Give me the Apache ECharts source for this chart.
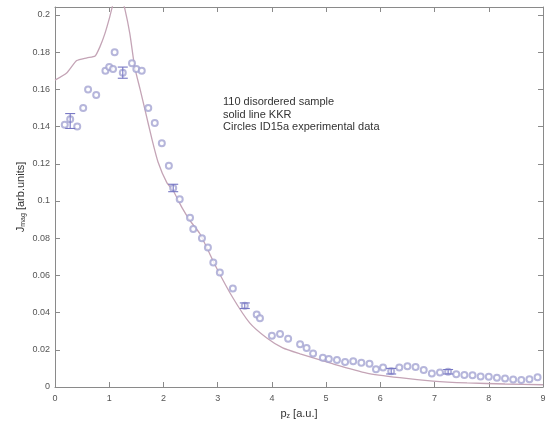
<!DOCTYPE html>
<html>
<head>
    <meta charset="utf-8">
    <title>Magnetic Compton profile</title>
    <script src="https://cdn.jsdelivr.net/npm/echarts@6/dist/echarts.min.js"></script>
    <style>
        html, body { margin: 0; padding: 0; background: #fff; }
    </style>
</head>
<body>
    <div id="main" style="width: 552px;height:425px;"></div>

    <script type="text/javascript">
        // experimental points (circles)
        var expX = [0.18, 0.28, 0.41, 0.52, 0.61, 0.76, 0.93, 1.00, 1.07, 1.10, 1.25, 1.42, 1.50, 1.60,
            1.72, 1.84, 1.97, 2.10, 2.18, 2.30, 2.49, 2.55, 2.71, 2.82, 2.92, 3.04, 3.28, 3.50, 3.72, 3.78,
            4.00, 4.15, 4.30, 4.52, 4.64, 4.76, 4.94, 5.05, 5.20, 5.35, 5.50, 5.65, 5.80, 5.92, 6.05, 6.20,
            6.35, 6.50, 6.65, 6.80, 6.95, 7.10, 7.25, 7.40, 7.55, 7.70, 7.85, 8.00, 8.15, 8.30, 8.45, 8.60,
            8.75, 8.90];
        var expY = [0.141, 0.144, 0.140, 0.150, 0.160, 0.157, 0.170, 0.172, 0.171, 0.180, 0.169, 0.174, 0.171, 0.170,
            0.150, 0.142, 0.131, 0.119, 0.107, 0.101, 0.091, 0.085, 0.080, 0.075, 0.067, 0.0615, 0.053, 0.0437, 0.039, 0.037,
            0.0275, 0.0285, 0.026, 0.023, 0.021, 0.018, 0.0157, 0.015, 0.0145, 0.0135, 0.0138, 0.013, 0.0125, 0.0095, 0.0105, 0.0085,
            0.0105, 0.0112, 0.0108, 0.0092, 0.0072, 0.0078, 0.0082, 0.0068, 0.0065, 0.0063, 0.0056, 0.0055, 0.0050, 0.0046, 0.0040, 0.0038,
            0.0042, 0.0052];

        // error bars on a few points
        var errX = [0.28, 1.25, 2.18, 3.50, 6.20, 7.25];
        var errY = [0.143, 0.169, 0.107, 0.0437, 0.0085, 0.0082];
        var errD = [0.004, 0.003, 0.002, 0.0015, 0.0015, 0.0012];

        // KKR theory (solid line)
        var kkrX = [0, 0.22, 0.40, 0.59, 0.74, 0.83, 0.92, 1.01, 1.08, 1.16, 1.22, 1.29, 1.38, 1.47, 1.57,
            1.66, 1.79, 1.90, 2.06, 2.18, 2.35, 2.50, 2.67, 2.98, 3.28, 3.59, 3.90, 4.20, 4.52, 5.13, 5.75,
            6.36, 6.97, 7.60, 8.30, 9.00];
        var kkrY = [0.165, 0.169, 0.1755, 0.177, 0.178, 0.183, 0.190, 0.199, 0.207, 0.213, 0.210, 0.203, 0.190, 0.172, 0.160,
            0.149, 0.133, 0.121, 0.110, 0.1055, 0.096, 0.089, 0.0825, 0.064, 0.048, 0.0345, 0.0265, 0.021, 0.0178, 0.0124, 0.0075,
            0.005, 0.0032, 0.0022, 0.0016, 0.0012];

        var notes = ['110 disordered sample', 'solid line KKR', 'Circles ID15a experimental data'];

        function zip(xs, ys) {
            return xs.map(function (x, i) { return [x, ys[i]]; });
        }

        var axisColor = '#8a8a8a';
        var labelColor = '#555';
        var font = 'Liberation Sans';

        var dom = document.getElementById('main');
        var myChart = echarts.init(dom, null, { renderer: 'canvas' });

        var nameRich = {
            a: { fontSize: 11, color: '#333', fontFamily: font },
            s: { fontSize: 7, color: '#333', fontFamily: font, padding: [5, 0, 0, 0] }
        };

        var option = {
            backgroundColor: '#fff',
            animation: false,
            textStyle: { fontFamily: font },
            grid: { left: 55, right: 9, top: 7, bottom: 38 },
            xAxis: [{
                type: 'value', min: 0, max: 9, interval: 1,
                name: '{a|p}{s|z}{a| [a.u.]}',
                nameLocation: 'middle', nameGap: 21,
                nameTextStyle: { rich: nameRich },
                axisLine: { onZero: false, lineStyle: { color: axisColor } },
                axisTick: { inside: true, length: 5, lineStyle: { color: axisColor } },
                axisLabel: { color: labelColor, fontSize: 9, margin: 7 },
                splitLine: { show: false }
            }, {
                type: 'value', min: 0, max: 9, interval: 1, position: 'top',
                axisLine: { onZero: false, lineStyle: { color: axisColor } },
                axisTick: { inside: true, length: 5, lineStyle: { color: axisColor } },
                axisLabel: { show: false },
                splitLine: { show: false }
            }],
            yAxis: [{
                type: 'value', min: 0, max: 0.2043, interval: 0.02,
                name: '{a|J}{s|mag}{a| [arb.units]}',
                nameLocation: 'middle', nameGap: 28,
                nameMoveOverlap: false,
                nameTextStyle: { rich: nameRich },
                axisLine: { onZero: false, lineStyle: { color: axisColor } },
                axisTick: { inside: true, length: 5, lineStyle: { color: axisColor } },
                axisLabel: {
                    color: labelColor, fontSize: 9, margin: 5,
                    formatter: function (v) {
                        var k = Math.round(v / 0.02);
                        if (Math.abs(v - k * 0.02) > 1e-6) return '';
                        return String(+(k * 0.02).toFixed(2));
                    }
                },
                splitLine: { show: false }
            }, {
                type: 'value', min: 0, max: 0.2043, interval: 0.02, position: 'right',
                axisLine: { onZero: false, lineStyle: { color: axisColor } },
                axisTick: { inside: true, length: 5, lineStyle: { color: axisColor } },
                axisLabel: { show: false },
                splitLine: { show: false }
            }],
            graphic: [{
                type: 'text',
                left: 223, top: 96,
                style: {
                    text: notes.join('\n'),
                    fontSize: 11, lineHeight: 12.5,
                    fontFamily: font, fill: '#333'
                }
            }],
            series: [{
                name: 'KKR',
                type: 'line',
                data: zip(kkrX, kkrY),
                smooth: 0.2,
                showSymbol: false,
                clip: true,
                lineStyle: { color: '#c4a4b6', width: 1.3 },
                z: 2
            }, {
                name: 'ID15a',
                type: 'scatter',
                data: zip(expX, expY),
                symbol: 'emptyCircle',
                symbolSize: 6,
                itemStyle: { color: '#a4a4d2', borderColor: '#a4a4d2', borderWidth: 0.9 },
                z: 3
            }, {
                name: 'errors',
                type: 'custom',
                data: errX.map(function (x, i) { return [x, errY[i] - errD[i], errY[i] + errD[i]]; }),
                renderItem: function (params, api) {
                    var lo = api.coord([api.value(0), api.value(1)]);
                    var hi = api.coord([api.value(0), api.value(2)]);
                    var w = 5;
                    var st = { stroke: '#7676c4', lineWidth: 1.1 };
                    return {
                        type: 'group',
                        children: [
                            { type: 'line', shape: { x1: lo[0], y1: lo[1], x2: hi[0], y2: hi[1] }, style: st },
                            { type: 'line', shape: { x1: lo[0] - w, y1: lo[1], x2: lo[0] + w, y2: lo[1] }, style: st },
                            { type: 'line', shape: { x1: hi[0] - w, y1: hi[1], x2: hi[0] + w, y2: hi[1] }, style: st }
                        ]
                    };
                },
                encode: { x: 0, y: [1, 2] },
                z: 4
            }]
        };

        myChart.setOption(option);
    </script>
</body>
</html>
